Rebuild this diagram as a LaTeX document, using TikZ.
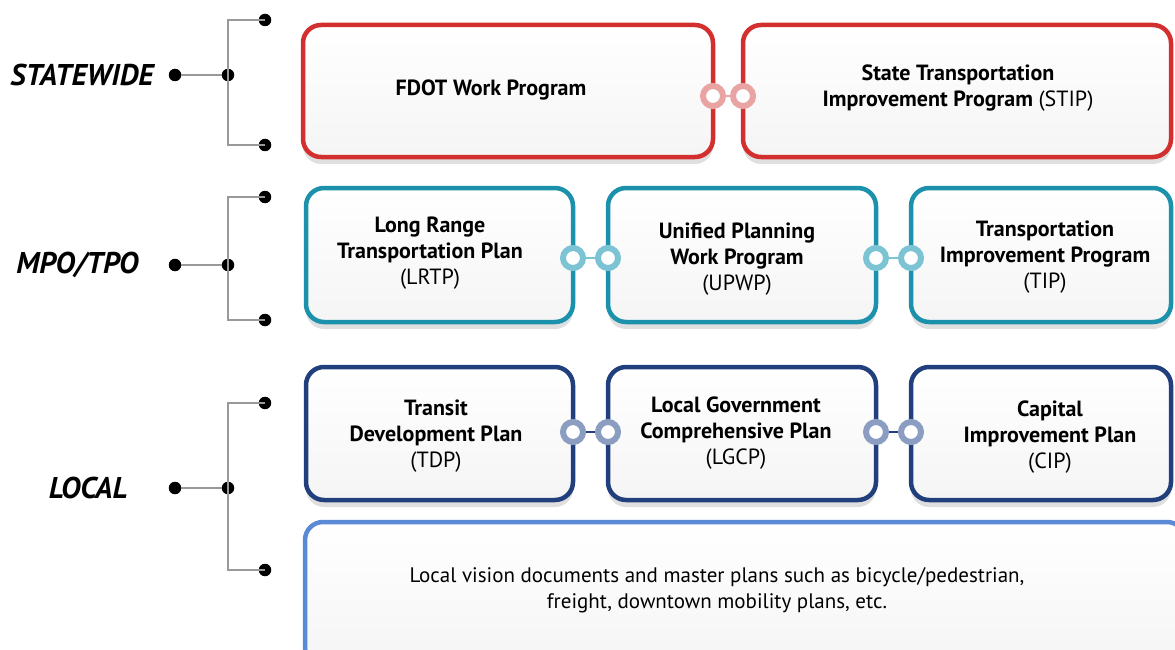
\documentclass[tikz,border=0pt]{standalone}
\usepackage{fontspec}
\setmainfont{PT Sans}
\usetikzlibrary{shadows}
\definecolor{cred}{HTML}{D32F2F}
\definecolor{rred}{HTML}{E9A3A3}
\definecolor{cteal}{HTML}{1B91AB}
\definecolor{rteal}{HTML}{7CC4D4}
\definecolor{cnavy}{HTML}{213F7C}
\definecolor{rnavy}{HTML}{8C9DC2}
\definecolor{clight}{HTML}{5A89D6}
\definecolor{bracketgray}{HTML}{999999}
\tikzset{
  box/.style={draw, line width=4.5pt, rounded corners=18pt, top color=white, bottom color=black!4,
    drop shadow={opacity=0.25, shadow xshift=0pt, shadow yshift=-7pt}, inner sep=0pt},
  ring/.style={circle, draw, line width=6pt, fill=white, minimum size=20pt, inner sep=0pt},
  dot/.style={circle, fill=black, minimum size=12.5pt, inner sep=0pt},
  brk/.style={draw=bracketgray, line width=2pt},
  lvl/.style={font=\fontsize{30}{32}\selectfont\bfseries\itshape, anchor=east},
  txt/.style={font=\fontsize{22}{26}\selectfont, align=center},
}
\begin{document}
\begin{tikzpicture}[x=1pt,y=-1pt]
\useasboundingbox (0,0) rectangle (1175,650);
\clip (0,0) rectangle (1175,650);
% brackets
\foreach \n/\top/\mid/\bot/\lab/\lx in {s/20/75/145/{STATEWIDE}/157, m/197/265/320/{MPO/TPO}/142, l/403/488/570/{LOCAL}/131}{
  \node[lvl] (lab\n) at (\lx,\mid) {\lab};
  \node[dot] (d\n a) at (175,\mid) {};
  \node[dot] (d\n b) at (228,\mid) {};
  \node[dot] (d\n t) at (265,\top) {};
  \node[dot] (d\n u) at (265,\bot) {};
  \coordinate (c\n t) at (228,\top);
  \coordinate (c\n u) at (228,\bot);
  \draw[brk] (d\n a) -- (d\n b);
  \draw[brk] (d\n t.center) -- (c\n t) -- (c\n u) -- (d\n u.center);
}
% boxes
\node[box, draw=cred, minimum width=410pt, minimum height=132pt] (fdot) at (508,91) {};
\node[box, draw=cred, minimum width=428pt, minimum height=132pt] (stip) at (957,91) {};
\node[box, draw=cteal, minimum width=267pt, minimum height=134pt] (lrtp) at (439.5,255) {};
\node[box, draw=cteal, minimum width=268pt, minimum height=134pt] (upwp) at (742,255) {};
\node[box, draw=cteal, minimum width=260pt, minimum height=134pt] (tip) at (1041,255) {};
\node[box, draw=cnavy, minimum width=267pt, minimum height=133pt] (tdp) at (439.5,433.5) {};
\node[box, draw=cnavy, minimum width=268pt, minimum height=133pt] (lgcp) at (742,433.5) {};
\node[box, draw=cnavy, minimum width=260pt, minimum height=133pt] (cip) at (1041,433.5) {};
\node[box, draw=clight, minimum width=880pt, minimum height=143pt] (vis) at (745,593.5) {};
% texts
\node[txt] (tfdot) at (491,90) {\bfseries FDOT Work Program};
\node[txt] (tstip) at (958,88) {\bfseries State Transportation\\ \bfseries Improvement Program \mdseries(STIP)};
\node[txt] (tlrtp) at (430,253) {\bfseries Long Range\\ \bfseries Transportation Plan\\ (LRTP)};
\node[txt] (tupwp) at (737,259) {\bfseries Unified Planning\\ \bfseries Work Program\\ (UPWP)};
\node[txt] (ttip) at (1045,257) {\bfseries Transportation\\ \bfseries Improvement Program\\ (TIP)};
\node[txt] (ttdp) at (436,436) {\bfseries Transit\\ \bfseries Development Plan\\ (TDP)};
\node[txt] (tlgcp) at (736,433) {\bfseries Local Government\\ \bfseries Comprehensive Plan\\ (LGCP)};
\node[txt] (tcip) at (1050,437) {\bfseries Capital\\ \bfseries Improvement Plan\\ (CIP)};
\node[txt, font=\fontsize{21}{26}\selectfont] (tvis) at (717,590) {Local vision documents and master plans such as bicycle/pedestrian,\\ freight, downtown mobility plans, etc.};
% rings
\node[ring, draw=rred] (r1) at (713,96) {};
\node[ring, draw=rred] (r2) at (743,96) {};
\draw[rred, line width=1.5pt] (r1) -- (r2);
\node[ring, draw=rteal] (r3) at (573,258) {};
\node[ring, draw=rteal] (r4) at (608,258) {};
\draw[rteal, line width=1.5pt] (r3) -- (r4);
\node[ring, draw=rteal] (r5) at (876,258) {};
\node[ring, draw=rteal] (r6) at (911,258) {};
\draw[rteal, line width=1.5pt] (r5) -- (r6);
\node[ring, draw=rnavy] (r7) at (573,432) {};
\node[ring, draw=rnavy] (r8) at (608,432) {};
\draw[cnavy, line width=1.5pt] (r7) -- (r8);
\node[ring, draw=rnavy] (r9) at (876,432) {};
\node[ring, draw=rnavy] (r10) at (911,432) {};
\draw[cnavy, line width=1.5pt] (r9) -- (r10);
\end{tikzpicture}
\end{document}
